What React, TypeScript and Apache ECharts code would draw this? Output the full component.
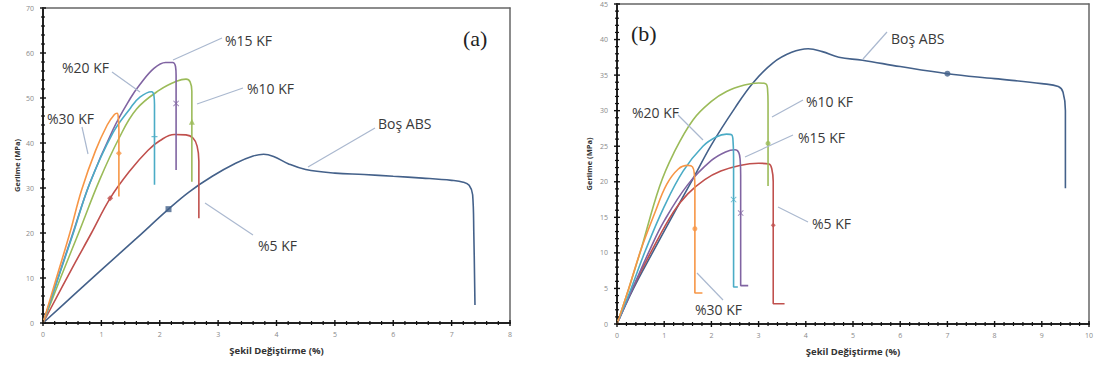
import React, { useEffect, useRef } from "react";
import * as echarts from "echarts";

// ---------- Panel (a) data: [strain %, stress MPa] ----------
const aBos = [[0,0],[0.5,5.9],[1,11.8],[1.6,18.8],[2.15,25.3],[2.5,29.1],[2.9,32.6],[3.3,35.5],[3.6,37.1],[3.78,37.5],[3.95,37],[4.2,35.4],[4.5,34.1],[5,33.3],[5.5,33],[6,32.6],[6.5,32.2],[7,31.7],[7.2,31.3],[7.3,30.6],[7.36,28.5],[7.38,20],[7.4,4]];
const a5 = [[0,0],[0.5,12.2],[0.83,20],[1.15,27.7],[1.5,34],[1.8,38.4],[2,40.5],[2.25,41.9],[2.45,41.8],[2.57,41.1],[2.64,39.3],[2.67,36],[2.67,23.3]];
const a10 = [[0,0],[0.3,10],[0.61,20],[0.97,31.8],[1.3,41],[1.6,47.5],[2,51.8],[2.3,53.8],[2.45,54.2],[2.52,53.6],[2.55,51.5],[2.55,31.4]];
const a15 = [[0,0],[0.5,19.5],[0.8,31],[1.2,43],[1.5,50],[1.66,53],[1.9,56.6],[2.1,57.9],[2.22,57.9],[2.27,57],[2.28,55],[2.28,34]];
const a20 = [[0,0],[0.26,10],[0.52,20],[0.8,31],[1.2,42.3],[1.5,47.8],[1.66,50.2],[1.86,51.4],[1.9,50.6],[1.91,48.5],[1.91,30.7]];
const a30 = [[0,0],[0.23,10],[0.46,20],[0.66,29.5],[0.9,38.3],[1.1,44],[1.22,46.3],[1.27,46.6],[1.29,45.6],[1.3,43],[1.3,28.1]];
const aMarks = { bos: [2.15, 25.3], k5: [1.15, 27.7], k10: [2.55, 44.7], k15: [2.28, 48.8], k20: [1.91, 41.4], k30: [1.3, 37.7] };

// ---------- Panel (b) data ----------
const bBos = [[0,0],[0.35,5],[0.75,10],[1.2,15.5],[1.6,20.3],[2,25.2],[2.5,30.4],[2.88,33.9],[3.3,36.7],[3.7,38.2],[4.05,38.7],[4.35,38.3],[4.7,37.5],[5.2,37.1],[6,36.2],[7,35.2],[8,34.5],[9,33.8],[9.35,33.4],[9.45,32.6],[9.5,30],[9.5,19.1]];
const b5 = [[0,0],[0.33,5],[0.75,10.5],[1.2,15.8],[1.5,18.3],[1.86,20.3],[2.2,21.5],[2.6,22.3],[3,22.6],[3.22,22.5],[3.28,21.8],[3.31,20],[3.31,2.85],[3.55,2.85]];
const b10 = [[0,0],[0.25,5],[0.5,10.3],[0.9,19.3],[1.2,24],[1.61,28.7],[2,31.3],[2.32,32.7],[2.7,33.6],[3,33.9],[3.15,33.8],[3.19,33],[3.2,31],[3.2,19.4]];
const b15 = [[0,0],[0.33,5],[0.7,10.5],[1,14.5],[1.5,19.6],[2,23],[2.3,24.2],[2.5,24.5],[2.58,24.1],[2.61,23],[2.62,21],[2.62,5.4],[2.78,5.4]];
const b20 = [[0,0],[0.3,5],[0.6,10.3],[1,16.5],[1.4,21.5],[1.82,25],[2.1,26.3],[2.32,26.7],[2.43,26.6],[2.46,25.5],[2.47,23],[2.47,5.2],[2.56,5.2]];
const b30 = [[0,0],[0.25,5],[0.5,10.3],[0.8,15.6],[1.05,19.6],[1.3,21.8],[1.5,22.3],[1.6,22.1],[1.64,21],[1.65,19],[1.65,4.36],[1.81,4.36]];
const bMarks = { bos: [7.0, 35.2], k5: [3.31, 13.9], k10: [3.2, 25.4], k15: [2.62, 15.6], k20: [2.47, 17.5], k30: [1.65, 13.4] };

// axis ranges: [max, major interval]
const aX = [8, 1];
const aY = [70, 10];
const bX = [10, 1];
const bY = [45, 5];
const MINOR_SPLIT = 5;

const xTitle = "Şekil Değiştirme (%)";
const yTitle = "Gerilme (MPa)";

const C = {
  bos: "#44618a",
  k5: "#c0504d",
  k10: "#9bbb59",
  k15: "#8064a2",
  k20: "#4bacc6",
  k30: "#f79646",
};

const SYM_X = "path://M0,1L1,0L5,4L9,0L10,1L6,5L10,9L9,10L5,6L1,10L0,9L4,5Z";
const SYM_PLUS = "path://M4,0H6V4H10V6H6V10H4V6H0V4H4Z";

const LABEL_FONT = '"Open Sans", "DejaVu Sans", sans-serif';

// tick positions (major + minor) along an axis range
function tickValues(max: number, interval: number): number[][] {
  const out: number[][] = [];
  const step = interval / MINOR_SPLIT;
  const n = Math.round(max / step);
  for (let i = 0; i <= n; i++) {
    const v = Math.round(i * step * 1000) / 1000;
    out.push([v, i % MINOR_SPLIT === 0 ? 1 : 0]);
  }
  return out;
}

function lineSeries(name: string, data: number[][], color: string, idx: number) {
  return {
    type: "line",
    name,
    data,
    xAxisIndex: idx,
    yAxisIndex: idx,
    smooth: 0.4,
    showSymbol: false,
    symbol: "none",
    lineStyle: { color, width: 1.6 },
    z: 3,
  };
}

function markSeries(pt: number[], color: string, symbol: string, size: number, idx: number) {
  return {
    type: "scatter",
    data: [pt],
    xAxisIndex: idx,
    yAxisIndex: idx,
    symbol,
    symbolSize: size,
    itemStyle: { color },
    z: 4,
  };
}

// tick marks drawn through the axis scale (crossing the axis line)
function tickSeries(idx: number, dir: "x" | "y", max: number, interval: number) {
  const ticks = tickValues(max, interval).map((t) => (dir === "x" ? [t[0], 0, t[1]] : [0, t[0], t[1]]));
  return {
    type: "custom",
    xAxisIndex: idx,
    yAxisIndex: idx,
    data: ticks,
    clip: false,
    silent: true,
    z: 6,
    encode: { x: 0, y: 1 },
    renderItem: (params: any, api: any) => {
      const p = api.coord([api.value(0), api.value(1)]);
      const major = api.value(2) === 1;
      const len = major ? 3 : 2;
      const shape =
        dir === "x"
          ? { x1: p[0], y1: p[1] - len, x2: p[0], y2: p[1] + len }
          : { x1: p[0] - len, y1: p[1], x2: p[0] + len, y2: p[1] };
      return { type: "line", shape, style: { stroke: "#111", lineWidth: major ? 1.4 : 1.2 } };
    },
  };
}

function xAxis(gi: number, max: number, interval: number, gap: number) {
  return {
    type: "value",
    gridIndex: gi,
    min: 0,
    max,
    interval,
    name: xTitle,
    nameLocation: "middle",
    nameGap: gap,
    nameTextStyle: { fontFamily: LABEL_FONT, fontWeight: "bold", fontSize: 9.5, color: "#333" },
    axisLabel: { fontSize: 7, color: "#8a8a8a", margin: 8, fontFamily: LABEL_FONT },
    axisLine: { show: true, onZero: false, lineStyle: { color: "#222", width: 2 } },
    axisTick: { show: false },
    splitLine: { show: false },
  };
}

function yAxis(gi: number, max: number, interval: number, gap: number) {
  return {
    type: "value",
    gridIndex: gi,
    min: 0,
    max,
    interval,
    name: yTitle,
    nameLocation: "middle",
    nameGap: gap,
    nameTextStyle: { fontFamily: LABEL_FONT, fontWeight: "bold", fontSize: 7.5, color: "#333" },
    axisLabel: { fontSize: 7, color: "#8a8a8a", margin: 9, fontFamily: LABEL_FONT },
    axisLine: { show: true, onZero: false, lineStyle: { color: "#222", width: 2 } },
    axisTick: { show: false },
    splitLine: { show: false },
  };
}

// frame axes (top and right borders of each plot box)
function frameX(gi: number, max: number) {
  return {
    type: "value", gridIndex: gi, position: "top", min: 0, max,
    axisLine: { show: true, onZero: false, lineStyle: { color: "#666", width: 1.5 } },
    axisTick: { show: false }, axisLabel: { show: false }, splitLine: { show: false },
  };
}
function frameY(gi: number, max: number) {
  return {
    type: "value", gridIndex: gi, position: "right", min: 0, max,
    axisLine: { show: true, onZero: false, lineStyle: { color: "#666", width: 1.5 } },
    axisTick: { show: false }, axisLabel: { show: false }, splitLine: { show: false },
  };
}

function label(text: string, x: number, y: number) {
  return {
    type: "text",
    x,
    y,
    style: { text, fill: "#3a3a3a", fontSize: 14, fontFamily: LABEL_FONT, align: "left", verticalAlign: "middle" },
    z: 10,
  };
}
function leader(x1: number, y1: number, x2: number, y2: number) {
  return {
    type: "line",
    shape: { x1, y1, x2, y2 },
    style: { stroke: "#aab8cf", lineWidth: 1.2 },
    z: 10,
  };
}

export default function App() {
  const ref = useRef<HTMLDivElement>(null);
  useEffect(() => {
    const chart = echarts.init(ref.current!, null, { renderer: "svg" });
    const option = {
      animation: false,
      backgroundColor: "#fff",
      grid: [
        { left: 43, top: 8, width: 467, height: 315 },
        { left: 617, top: 4, width: 472, height: 320 },
      ],
      xAxis: [xAxis(0, aX[0], aX[1], 22), xAxis(1, bX[0], bX[1], 22), frameX(0, aX[0]), frameX(1, bX[0])],
      yAxis: [yAxis(0, aY[0], aY[1], 22), yAxis(1, bY[0], bY[1], 24), frameY(0, aY[0]), frameY(1, bY[0])],
      series: [
        lineSeries("Boş ABS", aBos, C.bos, 0),
        lineSeries("%5 KF", a5, C.k5, 0),
        lineSeries("%10 KF", a10, C.k10, 0),
        lineSeries("%15 KF", a15, C.k15, 0),
        lineSeries("%20 KF", a20, C.k20, 0),
        lineSeries("%30 KF", a30, C.k30, 0),
        markSeries(aMarks.bos, C.bos, "rect", 6, 0),
        markSeries(aMarks.k5, C.k5, "diamond", 6, 0),
        markSeries(aMarks.k10, C.k10, "triangle", 6, 0),
        markSeries(aMarks.k15, C.k15, SYM_X, 6, 0),
        markSeries(aMarks.k20, C.k20, SYM_PLUS, 6, 0),
        markSeries(aMarks.k30, C.k30, "diamond", 6, 0),
        lineSeries("Boş ABS", bBos, C.bos, 1),
        lineSeries("%5 KF", b5, C.k5, 1),
        lineSeries("%10 KF", b10, C.k10, 1),
        lineSeries("%15 KF", b15, C.k15, 1),
        lineSeries("%20 KF", b20, C.k20, 1),
        lineSeries("%30 KF", b30, C.k30, 1),
        markSeries(bMarks.bos, C.bos, "circle", 6, 1),
        markSeries(bMarks.k5, C.k5, "diamond", 5, 1),
        markSeries(bMarks.k10, C.k10, "circle", 5, 1),
        markSeries(bMarks.k15, C.k15, SYM_X, 6, 1),
        markSeries(bMarks.k20, C.k20, SYM_X, 6, 1),
        markSeries(bMarks.k30, C.k30, "circle", 5, 1),
        tickSeries(0, "x", aX[0], aX[1]),
        tickSeries(0, "y", aY[0], aY[1]),
        tickSeries(1, "x", bX[0], bX[1]),
        tickSeries(1, "y", bY[0], bY[1]),
      ],
      graphic: [
        // panel (a)
        { type: "text", x: 463, y: 38, style: { text: "(a)", fill: "#222", fontSize: 22, fontFamily: '"Liberation Serif", serif', align: "left", verticalAlign: "middle" }, z: 10 },
        leader(173, 60, 222, 38), label("%15 KF", 225, 40),
        leader(112, 72, 140, 92), label("%20 KF", 62, 67),
        leader(197, 104, 243, 88), label("%10 KF", 247, 88),
        leader(82, 127, 88, 154), label("%30 KF", 47, 118),
        leader(375, 128, 308, 167), label("Boş ABS", 378, 123),
        leader(205, 203, 253, 235), label("%5 KF", 258, 245),
        // panel (b)
        { type: "text", x: 631, y: 33, style: { text: "(b)", fill: "#222", fontSize: 22, fontFamily: '"Liberation Serif", serif', align: "left", verticalAlign: "middle" }, z: 10 },
        leader(678, 115, 703, 140), label("%20 KF", 632, 112),
        leader(772, 117, 803, 100), label("%10 KF", 806, 101),
        leader(745, 157, 793, 135), label("%15 KF", 798, 137),
        leader(778, 207, 808, 222), label("%5 KF", 812, 223),
        leader(697, 273, 723, 300), label("%30 KF", 695, 309),
        leader(887, 32, 863, 59), label("Boş ABS", 891, 38),
      ],
    };
    chart.setOption(option as any);
    return () => chart.dispose();
  }, []);
  return (
    <div
      ref={ref}
      style={{ position: "fixed", left: 0, top: 0, width: 1097, height: 369, background: "#fff" }}
    />
  );
}
